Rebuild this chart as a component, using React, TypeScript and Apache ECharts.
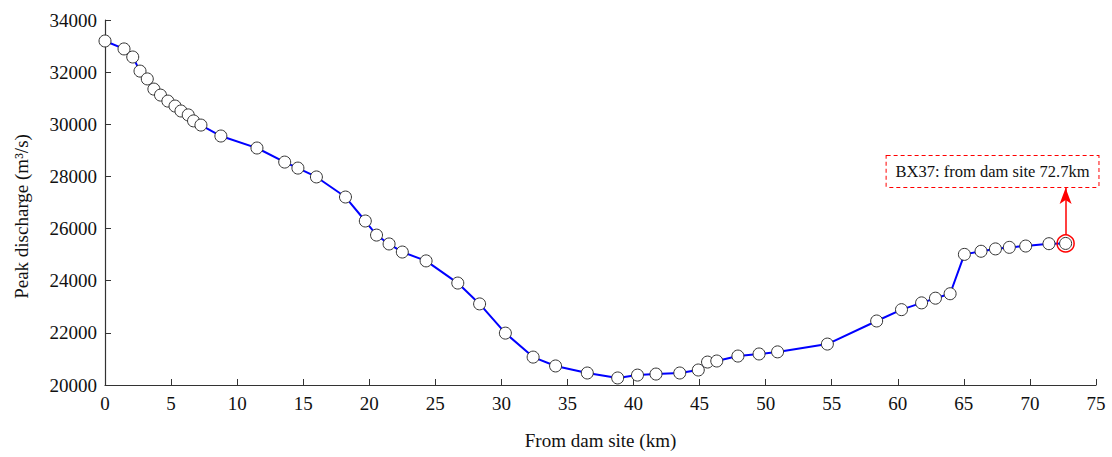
import React, { useEffect, useRef } from "react";
import * as echarts from "echarts";

const distanceKm = [
  0, 1.44, 2.1, 2.65, 3.2, 3.7, 4.2, 4.76, 5.3, 5.75, 6.3, 6.7, 7.26, 8.77, 11.5,
  13.6, 14.6, 16.0, 18.2, 19.7, 20.55, 21.5, 22.5, 24.3, 26.7, 28.35, 30.3, 32.4,
  34.1, 36.5, 38.8, 40.3, 41.7, 43.5, 44.9, 45.6, 46.3, 47.9, 49.5, 50.9, 54.67,
  58.4, 60.28, 61.8, 62.85, 63.96, 65.04, 66.3, 67.39, 68.44, 69.68, 71.44, 72.7,
];
const peakDischarge = [
  33195, 32890, 32580, 32040, 31740, 31350, 31120, 30890, 30700, 30510, 30360, 30130,
  29970, 29550, 29090, 28550, 28320, 27980, 27210, 26290, 25750, 25410, 25100, 24760,
  23910, 23110, 21990, 21070, 20730, 20460, 20270, 20380, 20420, 20460, 20575, 20880,
  20920, 21110, 21190, 21270, 21570, 22455, 22890, 23150, 23330, 23500, 25010, 25130,
  25220, 25280, 25330, 25420, 25430,
];
const annotationText = "BX37: from dam site 72.7km";
const highlightPoint = [72.7, 25430];
const arrowFrom = [72.7, 25760];
const arrowTo = [72.7, 27560];
const boxCenter = [67.17, 28190];

const FONT = "Liberation Serif";

export default function App() {
  const ref = useRef<HTMLDivElement>(null);
  useEffect(() => {
    if (!ref.current) return;
    const chart = echarts.init(ref.current, undefined, { renderer: "svg" });
    const data = distanceKm.map((x, i) => [x, peakDischarge[i]]);
    chart.setOption({
      animation: false,
      backgroundColor: "#fff",
      textStyle: { fontFamily: FONT },
      grid: {
        left: 105,
        right: 16,
        top: 20,
        bottom: 72,
        containLabel: false,
        outerBoundsMode: "none",
      },
      xAxis: {
        type: "value",
        min: 0,
        max: 75,
        interval: 5,
        name: "From dam site (km)",
        nameLocation: "middle",
        nameGap: 46,
        nameTextStyle: { fontFamily: FONT, fontSize: 19, color: "#111" },
        axisLine: { show: true, lineStyle: { color: "#333", width: 1.2 } },
        axisTick: { show: true, inside: true, length: 6, lineStyle: { color: "#333" } },
        axisLabel: { fontFamily: FONT, fontSize: 19, color: "#111", margin: 9 },
        splitLine: { show: false },
      },
      yAxis: {
        type: "value",
        min: 20000,
        max: 34000,
        interval: 2000,
        name: "Peak discharge (m³/s)",
        nameLocation: "middle",
        nameGap: 74,
        nameTextStyle: { fontFamily: FONT, fontSize: 19, color: "#111", padding: [0, 28, 0, 0] },
        axisLine: { show: true, lineStyle: { color: "#333", width: 1.2 } },
        axisTick: { show: true, inside: true, length: 6, lineStyle: { color: "#333" } },
        axisLabel: {
          fontFamily: FONT,
          fontSize: 19,
          color: "#111",
          margin: 8,
          formatter: (v: number) => String(v),
        },
        splitLine: { show: false },
      },
      series: [
        {
          type: "line",
          data,
          symbol: "circle",
          symbolSize: 12,
          showSymbol: true,
          lineStyle: { color: "#0000ff", width: 2 },
          itemStyle: { color: "#fff", borderColor: "#333", borderWidth: 1 },
          z: 3,
          markPoint: {
            silent: true,
            data: [
              {
                coord: highlightPoint,
                symbol: "circle",
                symbolSize: 17,
                itemStyle: { color: "rgba(0,0,0,0)", borderColor: "#ff0000", borderWidth: 1.5 },
                label: { show: false },
              },
              {
                coord: boxCenter,
                symbol: "rect",
                symbolSize: 1,
                itemStyle: { color: "rgba(0,0,0,0)" },
                label: {
                  show: true,
                  position: "inside",
                  formatter: annotationText,
                  fontFamily: FONT,
                  fontSize: 16.5,
                  color: "#111",
                  backgroundColor: "#fff",
                  borderColor: "#ff0000",
                  borderWidth: 1,
                  borderType: [4, 3],
                  padding: [8, 9, 6, 9],
                },
              },
            ],
          },
          markLine: {
            silent: true,
            symbol: ["none", "arrow"],
            symbolSize: [9, 16],
            label: { show: false },
            lineStyle: { color: "#ff0000", width: 1.5, type: "solid" },
            data: [[{ coord: arrowFrom }, { coord: arrowTo }]],
          },
        },
      ],
    });
    return () => chart.dispose();
  }, []);
  return (
    <div
      ref={ref}
      style={{ position: "absolute", left: 0, top: 0, width: 1112, height: 457 }}
    />
  );
}
